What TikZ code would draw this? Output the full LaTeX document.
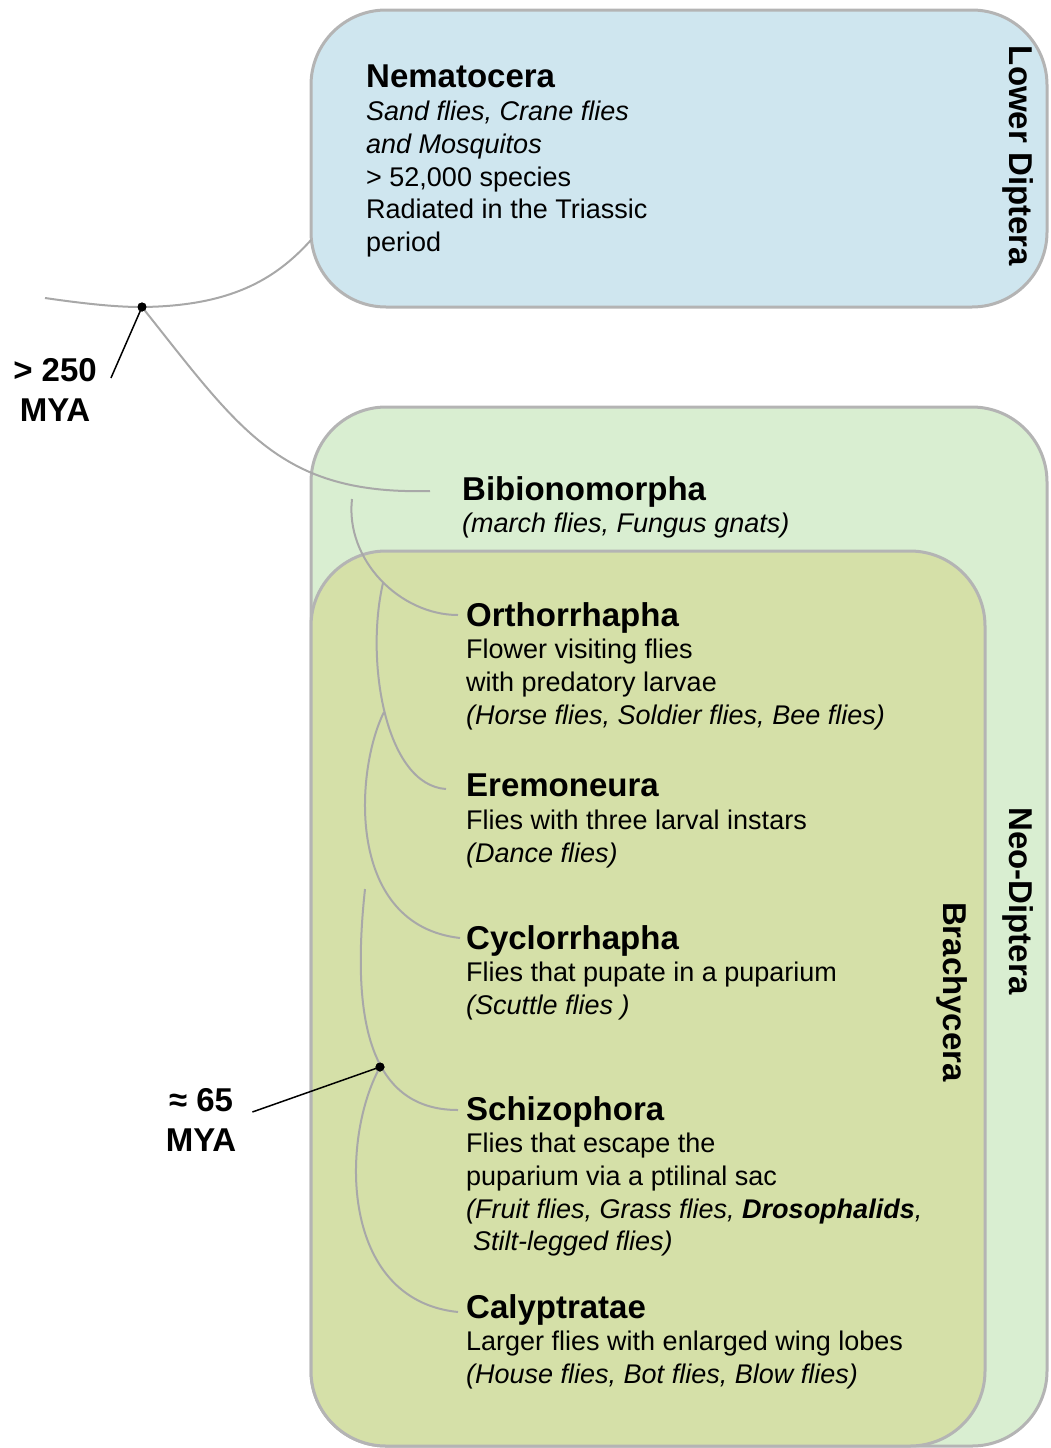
\documentclass[tikz,border=0pt]{standalone}
\usepackage{fontspec}
\setmainfont{Liberation Sans}
\usetikzlibrary{positioning}

\definecolor{lowerblue}{RGB}{207,230,239}
\definecolor{neogreen}{RGB}{217,238,209}
\definecolor{brachygreen}{RGB}{213,224,168}
\definecolor{boxgray}{RGB}{180,180,180}
\definecolor{treegray}{RGB}{168,168,168}

\newcommand{\cladename}[1]{{\fontsize{33}{32.7}\selectfont\bfseries #1}}

\begin{document}
\begin{tikzpicture}[x=1pt, y=-1pt,
    group/.style={draw=boxgray, line width=3pt, rounded corners=75pt},
    branch/.style={draw=treegray, line width=2pt},
    taxon/.style={anchor=north west, align=left, inner sep=0pt, font=\fontsize{27}{32.7}\selectfont},
    side/.style={rotate=-90, inner sep=0pt, font=\fontsize{33}{40}\selectfont\bfseries},
    age/.style={align=center, inner sep=0pt, font=\fontsize{33}{40}\selectfont\bfseries},
    split/.style={circle, fill=black, inner sep=0pt, minimum size=9pt},
    pointer/.style={draw=black, line width=1.5pt}]

    \useasboundingbox (0,0) rectangle (1050,1448);

    % Groups
    \draw[group, fill=lowerblue] (311,10) rectangle (1047,307);
    \draw[group, fill=neogreen] (311,407) rectangle (1047,1446);
    \draw[group, fill=brachygreen] (311,551) rectangle (985,1446);

    \node[side] (lower) at (1018,156) {Lower Diptera};
    \node[side] (neo) at (1018,901) {Neo-Diptera};
    \node[side] (brachy) at (952,992) {Brachycera};

    % Taxa
    \node[taxon] (nema) at (366,65) {\cladename{Nematocera}\\
        \textit{Sand flies, Crane flies}\\
        \textit{and Mosquitos}\\
        > 52,000 species\\
        Radiated in the Triassic\\
        period};
    \node[taxon] (bib) at (462,476) {\cladename{Bibionomorpha}\\
        \textit{(march flies, Fungus gnats)}};
    \node[taxon] (orth) at (466,602) {\cladename{Orthorrhapha}\\
        Flower visiting flies\\
        with predatory larvae\\
        \textit{(Horse flies, Soldier flies, Bee flies)}};
    \node[taxon] (ere) at (466,774) {\cladename{Eremoneura}\\
        Flies with three larval instars\\
        \textit{(Dance flies)}};
    \node[taxon] (cyc) at (466,925) {\cladename{Cyclorrhapha}\\
        Flies that pupate in a puparium\\
        \textit{(Scuttle flies )}};
    \node[taxon] (schiz) at (466,1096) {\cladename{Schizophora}\\
        Flies that escape the\\
        puparium via a ptilinal sac\\
        \textit{(Fruit flies, Grass flies, \textbf{Drosophalids},}\\
        \hspace*{7pt}\textit{Stilt-legged flies)}};
    \node[taxon] (caly) at (466,1294) {\cladename{Calyptratae}\\
        Larger flies with enlarged wing lobes\\
        \textit{(House flies, Bot flies, Blow flies)}};

    % Tree
    \coordinate (rootstart) at (45,298);
    \coordinate (nemaend) at (311,240);
    \coordinate (bibsplit) at (352,499);
    \coordinate (brasplit) at (383,583);
    \coordinate (eresplit) at (384,712);
    \coordinate (cycsplit) at (365,889);
    \node[split] (old) at (142,307) {};
    \node[split] (young) at (380,1067) {};

    \draw[branch] (rootstart) .. controls (100,306) and (125,307) .. (old.center)
        .. controls (230,306) and (275,280) .. (nemaend);
    \draw[branch] (old.center) .. controls (240,430) and (280,495) .. ([xshift=-32pt,yshift=-15pt]bib.north west);
    \draw[branch] (bibsplit) .. controls (345,560) and (400,615) .. ([xshift=-8pt,yshift=-13pt]orth.north west);
    \draw[branch] (brasplit) .. controls (365,660) and (385,785) .. ([xshift=-20pt,yshift=-15pt]ere.north west);
    \draw[branch] (eresplit) .. controls (355,770) and (345,925) .. ([xshift=-6pt,yshift=-13pt]cyc.north west);
    \draw[branch] (cycsplit) .. controls (352,1010) and (365,1110) .. ([xshift=-8pt,yshift=-14pt]schiz.north west);
    \draw[branch] (young.center) .. controls (340,1140) and (340,1300) .. ([xshift=-8pt,yshift=-18pt]caly.north west);

    % Ages
    \node[age] (oldage) at (55,390) {> 250\\MYA};
    \node[age] (youngage) at (201,1120) {≈ 65\\MYA};
    \draw[pointer] ([xshift=14pt,yshift=12pt]oldage.east) -- (old.center);
    \draw[pointer] ([xshift=16pt,yshift=8pt]youngage.east) -- (young.center);
    \fill (old) circle (4.5pt);
    \fill (young) circle (4.5pt);
\end{tikzpicture}
\end{document}
